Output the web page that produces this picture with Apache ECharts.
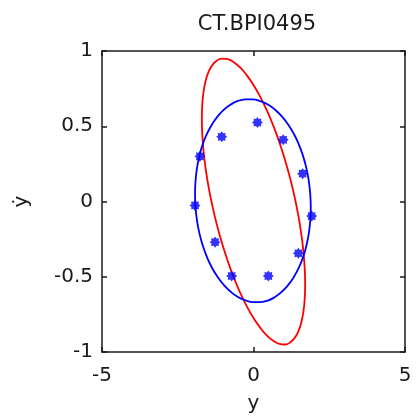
<!DOCTYPE html>
<html>
<head>
<meta charset="utf-8">
<script src="https://cdn.jsdelivr.net/npm/echarts@6/dist/echarts.min.js"></script>
<style>
  html, body { margin: 0; padding: 0; background: #fff; }
  #main { width: 420px; height: 419px; }
</style>
</head>
<body>
<div id="main"></div>
<script>
// measured points (blue stars)
var ptsX = [-1.05, 0.13, 0.98, -1.77, 1.62, -1.93, 1.92, -1.27, 1.48, -0.72, 0.49];
var ptsY = [0.43, 0.525, 0.41, 0.30, 0.185, -0.026, -0.097, -0.27, -0.344, -0.495, -0.495];

// blue ellipse, points read around the curve
var blueX = [1.89, 1.873, 1.825, 1.745, 1.634, 1.495, 1.33, 1.143, 0.935, 0.712, 0.475, 0.23,
             -0.02, -0.27, -0.515, -0.752, -0.975, -1.183, -1.37, -1.535, -1.674, -1.785, -1.865, -1.913,
             -1.93, -1.913, -1.865, -1.785, -1.674, -1.535, -1.37, -1.183, -0.975, -0.752, -0.515, -0.27,
             -0.02, 0.23, 0.475, 0.712, 0.935, 1.143, 1.33, 1.495, 1.634, 1.745, 1.825, 1.873, 1.89];
var blueY = [-0.04, 0.049, 0.136, 0.222, 0.303, 0.38, 0.45, 0.512, 0.566, 0.61, 0.644, 0.666,
             0.679, 0.678, 0.668, 0.644, 0.61, 0.566, 0.512, 0.45, 0.381, 0.304, 0.222, 0.137,
             0.05, -0.039, -0.126, -0.212, -0.293, -0.37, -0.44, -0.502, -0.556, -0.6, -0.634, -0.656,
             -0.669, -0.668, -0.658, -0.634, -0.6, -0.556, -0.502, -0.44, -0.371, -0.294, -0.212, -0.127, -0.04];

// red ellipse
var redX = [1.705, 1.690, 1.647, 1.575, 1.477, 1.352, 1.205, 1.038, 0.853, 0.653, 0.442, 0.223,
            0, -0.223, -0.442, -0.653, -0.853, -1.038, -1.205, -1.352, -1.477, -1.575, -1.647, -1.690,
            -1.705, -1.690, -1.647, -1.575, -1.477, -1.352, -1.205, -1.038, -0.853, -0.653, -0.442, -0.223,
            0, 0.223, 0.442, 0.653, 0.853, 1.038, 1.205, 1.352, 1.477, 1.575, 1.647, 1.690, 1.705];
var redY = [-0.551, -0.445, -0.332, -0.213, -0.09, 0.034, 0.157, 0.278, 0.394, 0.504, 0.605, 0.695,
            0.774, 0.839, 0.891, 0.926, 0.946, 0.950, 0.937, 0.908, 0.864, 0.805, 0.732, 0.647,
            0.551, 0.445, 0.332, 0.213, 0.09, -0.034, -0.157, -0.278, -0.394, -0.504, -0.605, -0.695,
            -0.774, -0.839, -0.891, -0.926, -0.946, -0.950, -0.937, -0.908, -0.864, -0.805, -0.732, -0.647, -0.551];

var xTicks = [-5, 0, 5];
var yTicks = [-1, -0.5, 0, 0.5, 1];

function pairs(xs, ys) {
  var out = [];
  for (var i = 0; i < xs.length; i++) out.push([xs[i], ys[i]]);
  return out;
}

// fat 8-arm star, like matlab's '*' at small size
var starPath = 'path://M20,10 L16.47,12.68 L17.07,17.07 L12.68,16.47 L10,20 L7.32,16.47 L2.93,17.07 L3.53,12.68 L0,10 L3.53,7.32 L2.93,2.93 L7.32,3.53 L10,0 L12.68,3.53 L17.07,2.93 L16.47,7.32 Z';

var font = 'DejaVu Sans';
var ink = '#1a1a1a';

var myChart = echarts.init(document.getElementById('main'));

function axisCommon(extra) {
  var a = {
    type: 'value',
    axisLine: { show: true, onZero: false, lineStyle: { color: ink, width: 1.5 } },
    axisTick: { show: true, inside: true, length: 5, lineStyle: { color: ink, width: 1.5 } },
    splitLine: { show: false },
    axisLabel: { color: ink, fontFamily: font, fontSize: 20 }
  };
  for (var k in extra) a[k] = extra[k];
  return a;
}

var option = {
  animation: false,
  backgroundColor: '#fff',
  title: {
    text: 'CT.BPI0495',
    left: 252,
    top: 9,
    textAlign: 'center',
    textStyle: { fontFamily: font, fontSize: 21, fontWeight: 'normal', color: ink }
  },
  grid: { left: 102, right: 15, top: 51, bottom: 66 },
  xAxis: [
    axisCommon({
      min: xTicks[0], max: xTicks[xTicks.length - 1], interval: 5, position: 'bottom',
      name: 'y', nameLocation: 'middle', nameGap: 42,
      nameTextStyle: { fontFamily: font, fontSize: 20, color: ink },
      axisLabel: { color: ink, fontFamily: font, fontSize: 20, margin: 14 }
    }),
    axisCommon({
      min: xTicks[0], max: xTicks[xTicks.length - 1], interval: 5, position: 'top',
      axisLabel: { show: false }
    })
  ],
  yAxis: [
    axisCommon({
      min: yTicks[0], max: yTicks[yTicks.length - 1], interval: 0.5, position: 'left',
      name: 'ẏ', nameLocation: 'middle', nameGap: 70,
      nameTextStyle: { fontFamily: font, fontSize: 20, color: ink },
      axisLabel: { color: ink, fontFamily: font, fontSize: 20, margin: 9 }
    }),
    axisCommon({
      min: yTicks[0], max: yTicks[yTicks.length - 1], interval: 0.5, position: 'right',
      axisLabel: { show: false }
    })
  ],
  series: [
    {
      type: 'line',
      data: pairs(redX, redY),
      smooth: true,
      showSymbol: false,
      lineStyle: { color: '#ff0000', width: 1.8 },
      z: 2
    },
    {
      type: 'line',
      data: pairs(blueX, blueY),
      smooth: true,
      showSymbol: false,
      lineStyle: { color: '#0000ff', width: 1.8 },
      z: 3
    },
    {
      type: 'scatter',
      data: pairs(ptsX, ptsY),
      symbol: starPath,
      symbolSize: 11,
      itemStyle: { color: '#0000ff' },
      z: 4
    }
  ]
};
myChart.setOption(option);
</script>
</body>
</html>
